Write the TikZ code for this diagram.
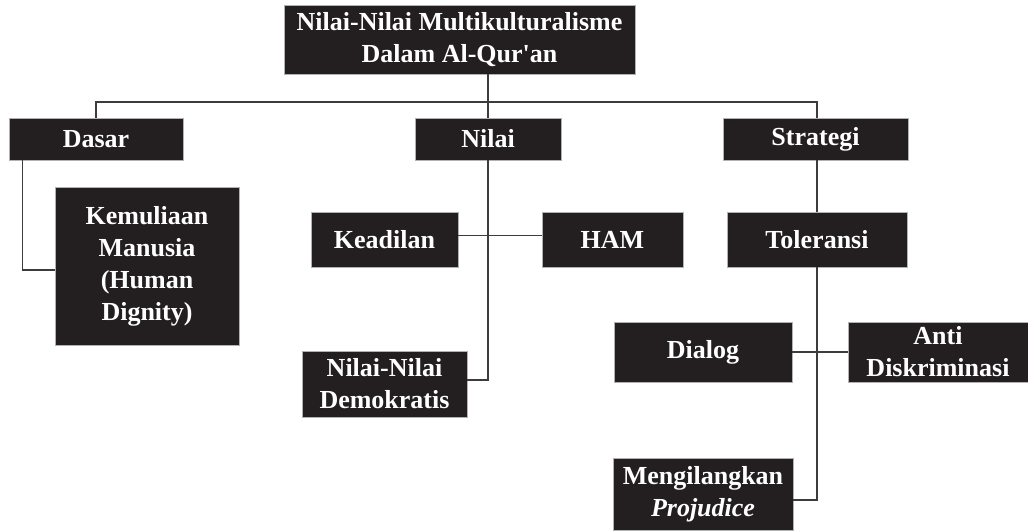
\documentclass[tikz,border=0pt]{standalone}
\usepackage{fontspec}
\setmainfont{Liberation Serif}
\usepackage{tikz}
\usetikzlibrary{positioning}
\definecolor{boxblack}{RGB}{35,31,32}
\definecolor{linegrey}{RGB}{60,60,60}
\tikzset{
    % 黑底白字的方框
    blackbox/.style={
        rectangle,
        fill=boxblack,
        draw=gray!60,
        line width=0.4pt,
        text=white,
        align=center,
        inner sep=0pt,
        font=\bfseries\fontsize{13}{16}\selectfont
    },
    % 灰色连线
    greyline/.style={
        line width=0.6pt,
        linegrey
    }
}
\begin{document}
\begin{tikzpicture}[x=0.5pt,y=-0.5pt]
    \useasboundingbox (0,0) rectangle (1028,531);

    % 顶部标题框
    \node[blackbox, minimum width=175.5pt, minimum height=34.5pt] (judul) at (459.5,39.5)
        {Nilai-Nilai Multikulturalisme\\Dalam Al-Qur\textquotesingle an};

    % 第二层: Dasar, Nilai, Strategi
    \node[blackbox, minimum width=87pt, minimum height=21pt] (dasar) at (96,139) {Dasar};
    \node[blackbox, minimum width=73pt, minimum height=21pt] (nilai) at (488,139) {Nilai};
    \node[blackbox, minimum width=92.5pt, minimum height=21pt] (strategi) at (815.5,139) {Strategi};

    % 第三层
    \node[blackbox, minimum width=92pt, minimum height=79pt] (kemuliaan) at (147,266)
        {Kemuliaan\\Manusia\\(Human\\Dignity)};
    \node[blackbox, minimum width=73.5pt, minimum height=27.5pt] (keadilan) at (384.5,239.5) {Keadilan};
    \node[blackbox, minimum width=70.5pt, minimum height=27.5pt] (ham) at (612.5,239.5) {HAM};
    \node[blackbox, minimum width=82.5pt, minimum height=33pt] (demokratis) at (384.5,384)
        {Nilai-Nilai\\Demokratis};
    \node[blackbox, minimum width=90pt, minimum height=27.5pt] (toleransi) at (817,239.5) {Toleransi};
    \node[blackbox, minimum width=89pt, minimum height=30pt] (dialog) at (703,352) {Dialog};
    \node[blackbox, minimum width=90pt, minimum height=30pt] (anti) at (938,352)
        {Anti\\Diskriminasi};
    \node[blackbox, minimum width=90pt, minimum height=36pt] (mengilangkan) at (703,494)
        {Mengilangkan\\\textit{Projudice}};

    % 横向总线
    \coordinate (busL) at (96,102);
    \coordinate (busR) at (817,102);
    \draw[greyline] (dasar.north) -- (busL) -- (busR) -- (busR |- strategi.north);
    \draw[greyline] (nilai.north |- judul.south) -- (nilai.north);

    % 各分支连线
    \draw[greyline] ([xshift=7pt]dasar.south west) |- ([yshift=-2pt]kemuliaan.west);
    \draw[greyline] (nilai.south) |- ([yshift=2pt]demokratis.east);
    \draw[greyline] ([yshift=2pt]keadilan.east) -- ([yshift=2pt]ham.west);
    \draw[greyline] (toleransi.north |- strategi.south) -- (toleransi.north);
    \draw[greyline] (toleransi.south) |- ([yshift=-3pt]mengilangkan.east);
    \draw[greyline] (dialog.east) -- (anti.west);

\end{tikzpicture}
\end{document}
